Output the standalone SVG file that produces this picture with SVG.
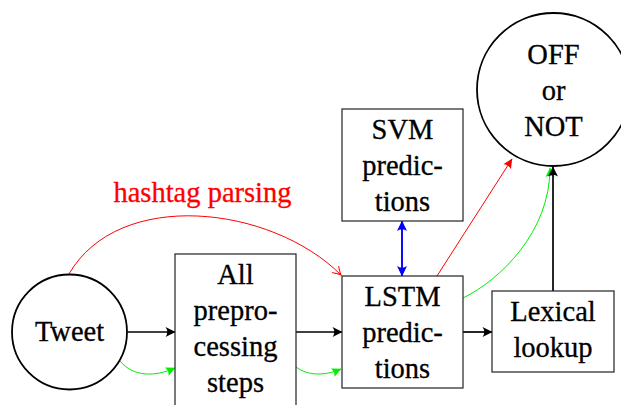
<svg xmlns="http://www.w3.org/2000/svg" width="621" height="405" viewBox="0 0 621 405">
<defs>
<style>
text{font-size:28.5px;text-anchor:middle;fill:#000;stroke:#000;stroke-width:0.3}
.box{fill:#fff;stroke:#222;stroke-width:1.2}
.circ{fill:#fff;stroke:#000;stroke-width:1.8}
.blk{fill:none;stroke:#000;stroke-width:1.7}
.red{fill:none;stroke:#ff0000;stroke-width:1}
.grn{fill:none;stroke:#00ee00;stroke-width:1}
.blu{fill:none;stroke:#0000ff;stroke-width:1.9}
.lbl{fill:#ff0000;stroke:#ff0000}
</style>
<marker id="ab" markerUnits="userSpaceOnUse" markerWidth="14" markerHeight="14" viewBox="-12 -7 14 14" refX="0" refY="0" orient="auto" overflow="visible">
<path d="M0.5,0 L-9.5,-5 Q-6,0 -9.5,5 Z" fill="#000"/>
</marker>
<marker id="ag" markerUnits="userSpaceOnUse" markerWidth="14" markerHeight="14" viewBox="-12 -7 14 14" refX="0" refY="0" orient="auto" overflow="visible">
<path d="M0.5,0 L-9,-4.5 Q-6.5,0 -9,4.5 Z" fill="#00ee00"/>
</marker>
<marker id="ar" markerUnits="userSpaceOnUse" markerWidth="14" markerHeight="14" viewBox="-12 -7 14 14" refX="0" refY="0" orient="auto" overflow="visible">
<path d="M0.5,0 L-9,-4.5 Q-6.5,0 -9,4.5 Z" fill="#ff0000"/>
</marker>
<marker id="aro" markerUnits="userSpaceOnUse" markerWidth="14" markerHeight="14" viewBox="-12 -7 14 14" refX="0" refY="0" orient="auto" overflow="visible">
<path d="M-8,-4.5 Q-2.5,-1 0,0 Q-2.5,1 -8,4.5" fill="none" stroke="#ff0000" stroke-width="1"/>
</marker>
<marker id="abl" markerUnits="userSpaceOnUse" markerWidth="14" markerHeight="14" viewBox="-12 -7 14 14" refX="0" refY="0" orient="auto-start-reverse" overflow="visible">
<path d="M0.5,0 L-10,-5 Q-6.5,0 -10,5 Z" fill="#0000ff"/>
</marker>
</defs>
<rect width="621" height="405" fill="#fff"/>

<g font-family="'Liberation Serif', 'Times New Roman', Times, serif">
<g id="connectors">
<path class="red" d="M69,274 C118.5,188 271,205 341,275" marker-end="url(#aro)"/>
<path class="red" d="M437,276 L512,159" marker-end="url(#ar)"/>
<path class="grn" d="M120,361 C133,377 155,377 175,368" marker-end="url(#ag)"/>
<path class="grn" d="M296,367 C308,376 325,376 341,369" marker-end="url(#ag)"/>
<path class="grn" d="M463,298 C500,280 550,232 550,168" marker-end="url(#ag)"/>
<path class="blk" d="M127.5,332 L175,332" marker-end="url(#ab)"/>
<path class="blk" d="M296,332 L342,332" marker-end="url(#ab)"/>
<path class="blk" d="M463,332 L492,332" marker-end="url(#ab)"/>
<path class="blk" d="M553,291 L553,167" marker-end="url(#ab)"/>
<path class="blu" d="M402,221 L402,276" marker-start="url(#abl)" marker-end="url(#abl)"/>
<text class="lbl" x="202.5" y="202">hashtag parsing</text>
</g>

<g id="tweet">
<circle class="circ" cx="69.5" cy="332" r="57.5"/>
<text x="69.5" y="341">Tweet</text>
</g>

<g id="preprocessing">
<rect class="box" x="175" y="254" width="121" height="160"/>
<text x="235.5" y="283.5">All</text>
<text x="235.5" y="319.5">prepro-</text>
<text x="235.5" y="355.5">cessing</text>
<text x="235.5" y="391.5">steps</text>
</g>

<g id="lstm">
<rect class="box" x="342" y="276" width="121" height="112"/>
<text x="402.5" y="306">LSTM</text>
<text x="402.5" y="342">predic-</text>
<text x="402.5" y="378">tions</text>
</g>

<g id="svm">
<rect class="box" x="342" y="109" width="121" height="112"/>
<text x="402.5" y="139">SVM</text>
<text x="402.5" y="175">predic-</text>
<text x="402.5" y="211">tions</text>
</g>

<g id="lexical">
<rect class="box" x="492" y="291" width="122" height="81"/>
<text x="553" y="321">Lexical</text>
<text x="553" y="357">lookup</text>
</g>

<g id="offnot">
<circle class="circ" cx="553.5" cy="89.5" r="76.5"/>
<text x="553.5" y="64">OFF</text>
<text x="553.5" y="100">or</text>
<text x="553.5" y="136">NOT</text>
</g>
</g>
</svg>
